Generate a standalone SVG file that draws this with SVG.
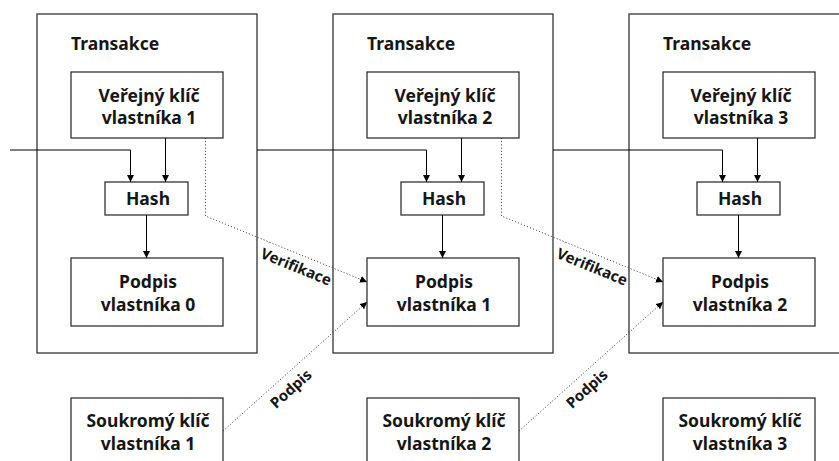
<svg xmlns="http://www.w3.org/2000/svg" width="839" height="461" viewBox="0 0 839 461">
<style>
.tx{fill:#fff;stroke:#333;stroke-width:1.3}
.bx{fill:#fff;stroke:#333;stroke-width:1.3}
.t{font-family:"Noto Sans","Liberation Sans",sans-serif;font-weight:700;font-size:17.5px;fill:#161616}
.c{text-anchor:middle}
.ln{fill:none;stroke:#000;stroke-width:1}
.dt{fill:none;stroke:#333;stroke-width:1;stroke-dasharray:1 2.2}
.lb{font-family:"Noto Sans","Liberation Sans",sans-serif;font-weight:700;font-size:15px;fill:#161616;text-anchor:middle}
</style>
<defs>
<marker id="ar" markerUnits="userSpaceOnUse" markerWidth="8" markerHeight="8" refX="7" refY="3.5" orient="auto">
<path d="M0,0 L7,3.5 L0,7 z" fill="#000"/>
</marker>
</defs>
<g id="tx1">
<rect class="tx" x="37" y="14" width="220" height="339"/>
<text class="t" x="71" y="50">Transakce</text>
</g>
<g id="tx2">
<rect class="tx" x="333" y="14" width="220" height="339"/>
<text class="t" x="367" y="50">Transakce</text>
</g>
<g id="tx3">
<rect class="tx" x="629" y="14" width="220" height="339"/>
<text class="t" x="663" y="50">Transakce</text>
</g>
<g id="pub1"><rect class="bx" x="71" y="72" width="152" height="66"/><text class="t c" x="149" y="102">Veřejný klíč</text><text class="t c" x="149" y="124">vlastníka 1</text></g>
<g id="pub2"><rect class="bx" x="367" y="72" width="152" height="66"/><text class="t c" x="445" y="102">Veřejný klíč</text><text class="t c" x="445" y="124">vlastníka 2</text></g>
<g id="pub3"><rect class="bx" x="663" y="72" width="152" height="66"/><text class="t c" x="741" y="102">Veřejný klíč</text><text class="t c" x="741" y="124">vlastníka 3</text></g>
<g id="hash1"><rect class="bx" x="105" y="182" width="83" height="33"/><text class="t c" x="148" y="205">Hash</text></g>
<g id="hash2"><rect class="bx" x="401" y="182" width="83" height="33"/><text class="t c" x="444" y="205">Hash</text></g>
<g id="hash3"><rect class="bx" x="697" y="182" width="83" height="33"/><text class="t c" x="740" y="205">Hash</text></g>
<g id="sig0"><rect class="bx" x="71" y="258" width="152" height="68"/><text class="t c" x="148" y="288">Podpis</text><text class="t c" x="148" y="311">vlastníka 0</text></g>
<g id="sig1"><rect class="bx" x="367" y="258" width="152" height="68"/><text class="t c" x="444" y="288">Podpis</text><text class="t c" x="444" y="311">vlastníka 1</text></g>
<g id="sig2"><rect class="bx" x="663" y="258" width="152" height="68"/><text class="t c" x="740" y="288">Podpis</text><text class="t c" x="740" y="311">vlastníka 2</text></g>
<g id="priv1"><rect class="bx" x="71" y="398" width="152" height="80"/><text class="t c" x="148" y="427">Soukromý klíč</text><text class="t c" x="148" y="450">vlastníka 1</text></g>
<g id="priv2"><rect class="bx" x="367" y="398" width="152" height="80"/><text class="t c" x="444" y="427">Soukromý klíč</text><text class="t c" x="444" y="450">vlastníka 2</text></g>
<g id="priv3"><rect class="bx" x="663" y="398" width="152" height="80"/><text class="t c" x="740" y="427">Soukromý klíč</text><text class="t c" x="740" y="450">vlastníka 3</text></g>
<g id="connectors">
<path class="ln" d="M10,150 H130.5 V182" marker-end="url(#ar)"/>
<path class="ln" d="M257,150 H426.5 V182" marker-end="url(#ar)"/>
<path class="ln" d="M553,150 H722.5 V182" marker-end="url(#ar)"/>
<path class="ln" d="M165.5,138 V182" marker-end="url(#ar)"/>
<path class="ln" d="M461.5,138 V182" marker-end="url(#ar)"/>
<path class="ln" d="M757.5,138 V182" marker-end="url(#ar)"/>
<path class="ln" d="M146.5,215 V258" marker-end="url(#ar)"/>
<path class="ln" d="M442.5,215 V258" marker-end="url(#ar)"/>
<path class="ln" d="M738.5,215 V258" marker-end="url(#ar)"/>
<path class="dt" d="M205.5,138 V216 L367,282" marker-end="url(#ar)"/>
<path class="dt" d="M501.5,138 V216 L663,282" marker-end="url(#ar)"/>
<path class="dt" d="M223,431 L367,302" marker-end="url(#ar)"/>
<path class="dt" d="M519,431 L663,302" marker-end="url(#ar)"/>
<text class="lb" transform="translate(296,267) rotate(22.3)" dy="5">Verifikace</text>
<text class="lb" transform="translate(592,267) rotate(22.3)" dy="5">Verifikace</text>
<text class="lb" transform="translate(291,389) rotate(-42)" dy="5">Podpis</text>
<text class="lb" transform="translate(587,389) rotate(-42)" dy="5">Podpis</text>
</g>
</svg>
